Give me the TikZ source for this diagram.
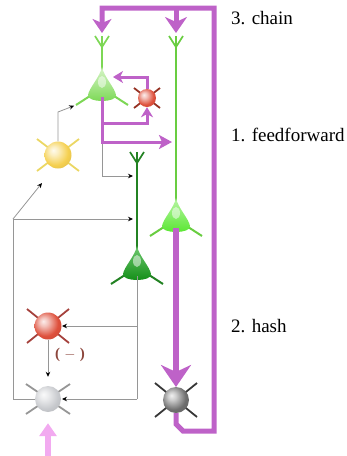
\documentclass[tikz,border=0pt]{standalone}
\usepackage{fontspec}
\setmainfont{Liberation Serif}
\usetikzlibrary{arrows.meta}

\definecolor{chainc}{RGB}{190,98,200}
\definecolor{inputc}{RGB}{242,170,240}
\definecolor{wirec}{RGB}{150,150,150}
\definecolor{paleg}{RGB}{120,215,80}
\definecolor{paleglt}{RGB}{215,245,200}
\definecolor{palegln}{RGB}{125,215,85}
\definecolor{brightg}{RGB}{85,230,45}
\definecolor{brightglt}{RGB}{185,245,165}
\definecolor{brightgln}{RGB}{105,205,65}
\definecolor{darkg}{RGB}{15,140,20}
\definecolor{darkglt}{RGB}{110,200,110}
\definecolor{darkgln}{RGB}{35,130,35}
\definecolor{yellowc}{RGB}{245,208,80}
\definecolor{yellowsp}{RGB}{235,215,100}
\definecolor{redc}{RGB}{222,80,60}
\definecolor{redsp}{RGB}{165,65,60}
\definecolor{smallredsp}{RGB}{150,50,35}
\definecolor{lgrayc}{RGB}{200,202,206}
\definecolor{lgraysp}{RGB}{150,150,150}
\definecolor{dgrayc}{RGB}{110,110,110}
\definecolor{dgraysp}{RGB}{55,55,55}
\definecolor{minusc}{RGB}{140,70,60}

% soft sphere shading for the round cells
\colorlet{cellcol}{gray}
\pgfdeclareradialshading[cellcol]{cellball}{\pgfpoint{-9bp}{9bp}}{%
  color(0bp)=(cellcol!10!white); color(8bp)=(cellcol!35!white);
  color(24bp)=(cellcol); color(40bp)=(cellcol!88!black);
  color(60bp)=(cellcol!75!black)}

% pyramidal cell: #1 body colour, #2 top tint, #3 dendrite colour, #4 apical length
\tikzset{
  pics/pyramidal/.style n args={4}{code={
    \draw[#3, line width=2pt] (-9,27) -- (-26,38) (9,27) -- (26,38);
    \draw[#3, line width=1.7pt] (0,5) -- (0,-#4)
        (0,-#4) -- ++(-7,-11) (0,-#4) -- ++(7,-11) (0,-#4) -- ++(0,-11);
    \shade[top color=#2, bottom color=#1]
      (0,0) .. controls (-2,10) and (-13,21) .. (-14,28)
            .. controls (-15,36) and (15,36) .. (14,28)
            .. controls (13,21) and (2,10) .. (0,0) -- cycle;
    \fill[white, opacity=.5] (0,15) ellipse [x radius=4, y radius=6];
    \coordinate (-apex) at (0,0);
    \coordinate (-base) at (0,30);
    \coordinate (-fork) at (0,-#4);
    \coordinate (-top) at (0,-#4-11);
    \coordinate (-ld) at (-26,38);
    \coordinate (-rd) at (26,38);
  }}
}

% spherical cell: name, position, diameter, spike dx, spike dy, ball colour, spike colour
\newcommand\somanode[7]{%
  \draw[#7, line width=1.8pt] (#2) ++(-#4,-#5) -- ++(2*#4,2*#5);
  \draw[#7, line width=1.8pt] (#2) ++(-#4,#5) -- ++(2*#4,-2*#5);
  \colorlet{cellcol}{#6}%
  \node[soma, minimum size=#3pt, shade, shading=cellball] (#1) at (#2) {};
}

\begin{document}
\begin{tikzpicture}[x=1pt,y=-1pt,
  chain/.style={draw=chainc, line width=5pt},
  fb/.style={draw=chainc, line width=3pt},
  wire/.style={draw=wirec, line width=0.8pt, -{Stealth[length=5pt,width=4.5pt,color=black]}},
  soma/.style={circle, inner sep=0pt, draw=none},
  lbl/.style={font=\fontsize{19}{22}\selectfont, anchor=base west, inner sep=0pt}]
\useasboundingbox (0,0) rectangle (347,456);

% fixed points along the wiring
\coordinate (ax1) at (102,123);
\coordinate (ax2) at (102,142);
\coordinate (n1in) at (113,77);
\coordinate (in3a) at (137,176);
\coordinate (in3b) at (137,219);
\coordinate (hub) at (13,219);
\coordinate (yin) at (42,183);
\coordinate (tap1) at (137,326);
\coordinate (tap2) at (137,399);
\coordinate (src) at (48,458);

% thin grey wiring
\draw[wire, shorten >=4pt] (ax2) |- (in3a);
\draw[wire, shorten >=4pt] (hub) -- (in3b);
\draw[wire] (hub) -- (yin);

% purple chain loop
\draw[chain, -{Stealth[length=14pt,width=19pt,inset=4pt]}, shorten >=3pt]
  (176,413) -- (176,424) -- (183,431) -- (214,431) -- (214,8) -- (102,8) -- (102,36);
\draw[chain, -{Stealth[length=16pt,width=22pt,inset=5pt]}, shorten >=3pt]
  (176,8) -- (176,36);

% pyramidal cells
\pic (n1) at (102,67) {pyramidal={paleg}{paleglt}{palegln}{20}};
\pic (n2) at (176,198) {pyramidal={brightg}{brightglt}{brightgln}{151}};
\pic (n3) at (137,246) {pyramidal={darkg}{darkglt}{darkgln}{83}};

% spherical cells
\somanode{yel}{58,155}{27}{21}{16}{yellowc}{yellowsp}
\somanode{rs}{147,98}{18}{13}{10}{redc}{smallredsp}
\somanode{rb}{48,326}{27}{21}{17}{redc}{redsp}
\somanode{gl}{48,399}{26}{22}{15}{lgrayc}{lgraysp}

% descending projection onto the output cell
\draw[draw=chainc, line width=6pt, -{Stealth[length=22pt,width=30pt,inset=7pt]}]
  (n2-base) -- (176,387);
\somanode{gd}{176,400}{26}{21}{17}{dgrayc}{dgraysp}

% feedback around the first cell
\draw[fb, -{Stealth[length=13pt,width=14pt,inset=3pt]}, shorten >=4pt]
  (n1-base) -- (ax2) -- (ax2 -| n2-fork);
\draw[fb, -{Stealth[length=10pt,width=12pt,inset=3pt]}] (ax1) -| (rs.south);
\draw[fb, -{Stealth[length=10pt,width=12pt,inset=3pt]}] (rs.north) |- (n1in);

% grey links to and from the spherical cells
\draw[wire, shorten >=2pt] (yel.north) -- (58,112) -- (n1-ld);
\draw[wire, -] (gl.west) -| (hub);
\draw[wire, -] (n3-base) -- (tap2);
\draw[wire, shorten >=14pt] (tap1) -- (rb.center);
\draw[wire, shorten >=14pt] (tap2) -- (gl.center);
\draw[wire, shorten >=9pt] (rb.south) -- (gl.north);
\node[text=minusc, font=\fontsize{15}{15}\selectfont\bfseries] (minus) at (70,355) {(\;$-$\;)};

% external input
\draw[draw=inputc, line width=6pt, -{Triangle[length=13pt,width=17pt]}, shorten >=11pt]
  (src) -- (gl.south);

% labels
\node[lbl] (tchain) at (231,24) {3. chain};
\node[lbl] (tff) at (231,141) {1. feedforward};
\node[lbl] (thash) at (231,332) {2. hash};
\end{tikzpicture}
\end{document}
